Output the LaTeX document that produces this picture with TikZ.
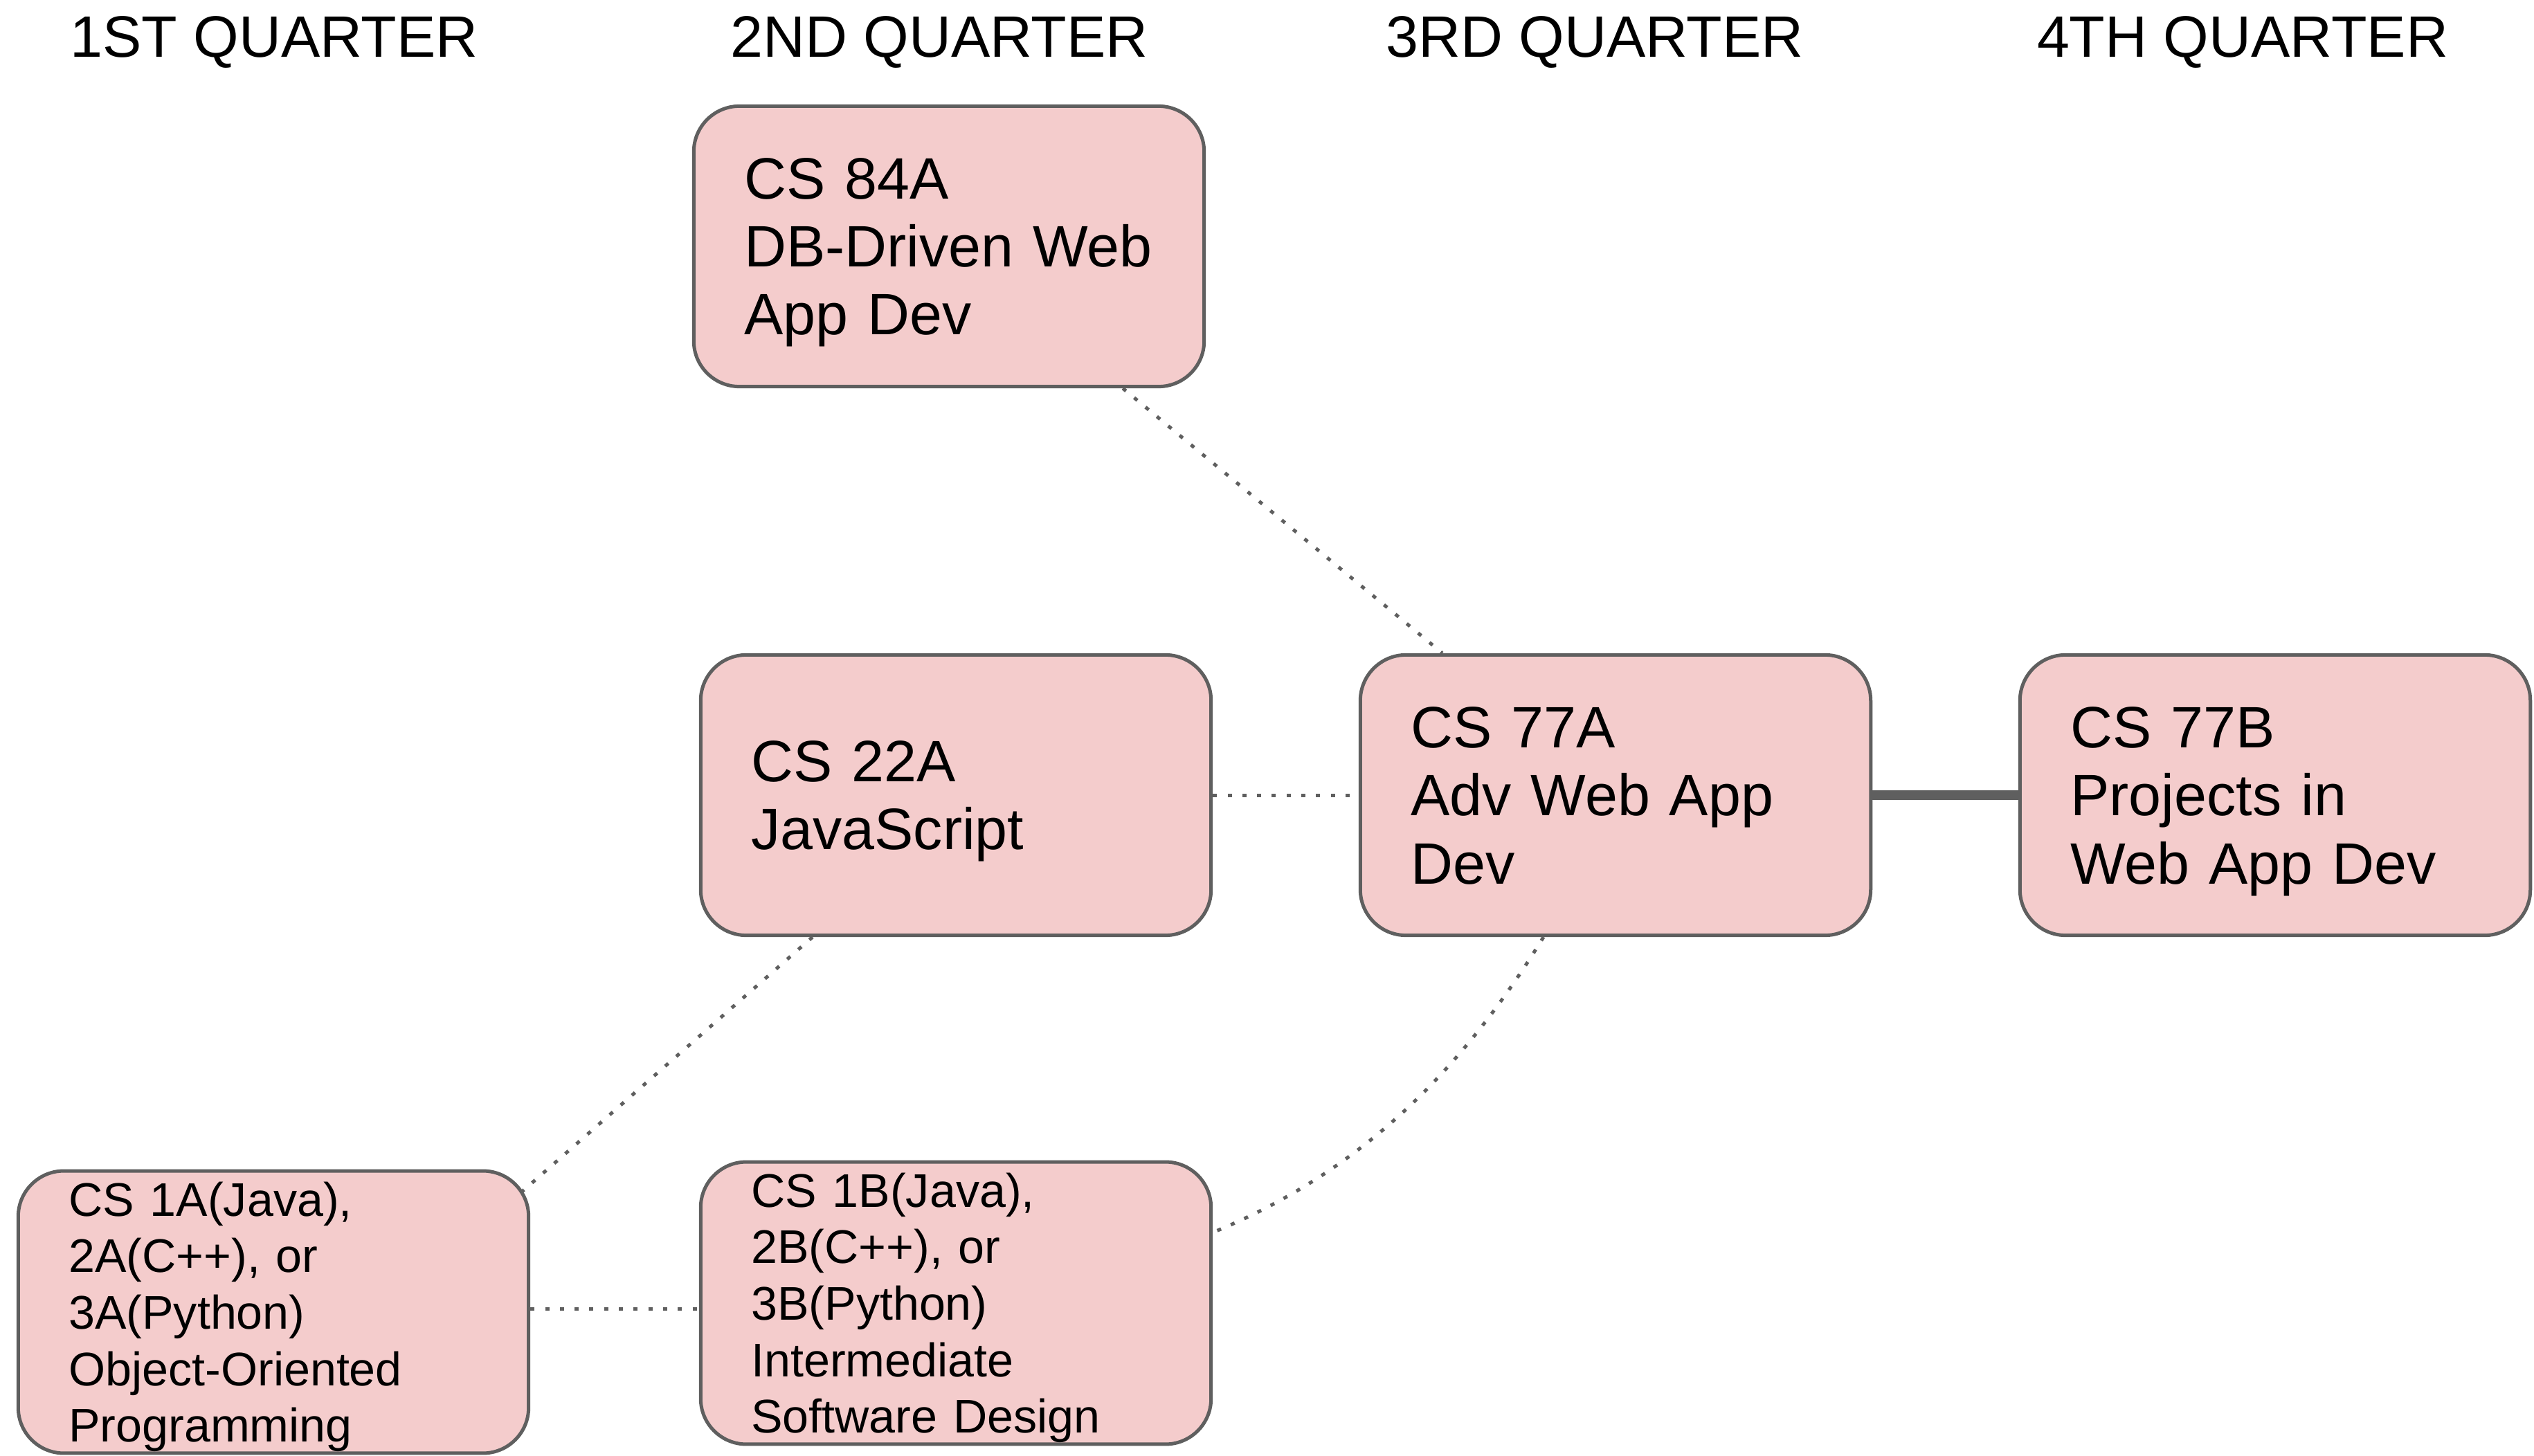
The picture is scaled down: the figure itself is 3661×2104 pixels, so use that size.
\documentclass[tikz,border=0pt]{standalone}
\usepackage{fontspec}
\setmainfont{Liberation Sans}
\usetikzlibrary{calc}

\definecolor{boxfill}{HTML}{F4CCCC}
\definecolor{boxline}{HTML}{5F5F5F}

% line struts: every text line gets the same height and depth
\newcommand{\lsbig}{\rule[-5.6pt]{0pt}{28pt}}
\newcommand{\lssmall}{\rule[-4.64pt]{0pt}{23.2pt}}

\tikzset{
  course/.style={draw=boxline, fill=boxfill, line width=0.05cm,
    rounded corners=0.66cm, minimum width=7.37cm, minimum height=4.05cm,
    inner xsep=0.73cm, inner ysep=0pt, text width=5.91cm, align=left,
    font=\fontsize{24}{28}\selectfont},
  coursesmall/.style={course, font=\fontsize{19.4}{23.2}\selectfont},
  header/.style={anchor=base, inner sep=0pt, font=\fontsize{24}{28}\selectfont},
  prereq/.style={draw=boxline, line width=0.05cm,
    dash pattern=on 0.06cm off 0.153cm},
  sequel/.style={draw=boxline, line width=0.13cm}
}

\begin{document}
\begin{tikzpicture}[x=0.01cm, y=-0.01cm]
\useasboundingbox (0,0) rectangle (3661,2104);

% quarter headings
\node[header] (q1) at (396,83)  {1ST QUARTER};
\node[header] (q2) at (1357,83) {2ND QUARTER};
\node[header] (q3) at (2304,83) {3RD QUARTER};
\node[header] (q4) at (3240,83) {4TH QUARTER};

% courses
\node[course] (c84) at (1371,356)
  {\lsbig CS 84A\\\lsbig DB-Driven Web\\\lsbig App Dev};
\node[course] (c22) at (1381,1149)
  {\lsbig CS 22A\\\lsbig JavaScript};
\node[course] (c77a) at (2334,1149)
  {\lsbig CS 77A\\\lsbig Adv Web App\\\lsbig Dev};
\node[course] (c77b) at (3287,1149)
  {\lsbig CS 77B\\\lsbig Projects in\\\lsbig Web App Dev};
\node[coursesmall] (c1a) at (395,1896)
  {\lssmall CS 1A(Java),\\\lssmall 2A(C++), or\\\lssmall 3A(Python)\\\lssmall Object-Oriented\\\lssmall Programming};
\node[coursesmall] (c1b) at (1381,1883)
  {\lssmall CS 1B(Java),\\\lssmall 2B(C++), or\\\lssmall 3B(Python)\\\lssmall Intermediate\\\lssmall Software Design};

% connections
\draw[prereq] ([xshift=2.51cm]c84.south) -- ([xshift=-2.5cm]c77a.north);
\draw[prereq] (c22.east) -- (c77a.west);
\draw[sequel] (c77a.east) -- (c77b.west);
\draw[prereq] ([xshift=-2.07cm]c22.south) -- ([shift={(3.59cm,1.74cm)}]c1a.center);
\draw[prereq] ([yshift=0.05cm]c1a.east) -- ([yshift=0.05cm]c1a.east -| c1b.west);
\draw[prereq] ([xshift=-1.04cm]c77a.south)
  .. controls +(-120,196) and +(212,-87) .. ([yshift=1.02cm]c1b.east);
\end{tikzpicture}
\end{document}
